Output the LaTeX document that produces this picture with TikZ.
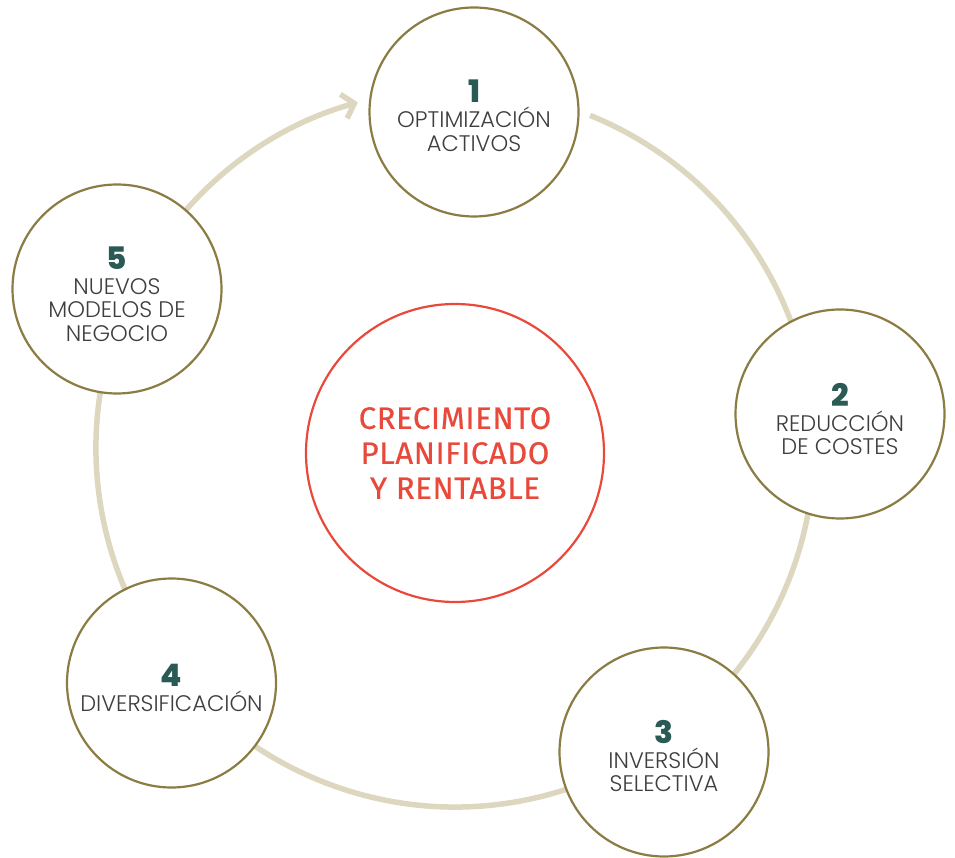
\documentclass[tikz,border=0pt]{standalone}
\usepackage{fontspec}
\setmainfont{Poppins}
\newfontfamily\labelfont{Poppins}[UprightFont={* Light}]
\newfontfamily\numfont{Poppins}[UprightFont={* ExtraBold}]
\newfontfamily\centerfont{Fira Sans}[FakeBold=0.6,LetterSpace=2]
\usetikzlibrary{arrows.meta,calc}
\definecolor{ringcol}{HTML}{DDD7BF}
\definecolor{olivecol}{HTML}{8A7C43}
\definecolor{tealnum}{HTML}{2A5A56}
\definecolor{labelgray}{HTML}{3E3E3E}
\definecolor{redcol}{HTML}{E9493B}
\newcommand{\stepnum}[1]{{\numfont\fontsize{31}{25}\selectfont\color{tealnum}#1}\\[1.5pt]}
\begin{document}
\begin{tikzpicture}[x=1pt,y=1pt,
  stepcircle/.style={circle, draw=olivecol, line width=2.2pt, fill=white,
    minimum size=209pt, inner sep=0pt},
  steptext/.style={align=center, text=labelgray, inner sep=0pt,
    font=\labelfont\fontsize{22.5}{23.5}\selectfont},
  centercircle/.style={circle, draw=redcol, line width=2.2pt, fill=white,
    minimum size=298pt, inner sep=0pt, align=center, text=redcol,
    font=\centerfont\fontsize{31}{35}\selectfont},
  ringline/.style={draw=ringcol, line width=5.5pt}]
\useasboundingbox (0,0) rectangle (955,857);
\coordinate (rc) at (455,409);
\coordinate (rstart) at ($(rc)+(67.9:359)$);
\draw[ringline, -{Straight Barb[length=11pt,width=25pt]}] (rstart) arc[start angle=67.9, end angle=-254.3, radius=359];
\node[centercircle] (center) at (455,404) {CRECIMIENTO\\PLANIFICADO\\Y RENTABLE};
\node[stepcircle] (c1) at (474,745) {};
\node[stepcircle] (c2) at (840,443) {};
\node[stepcircle] (c3) at (664,105) {};
\node[stepcircle] (c4) at (171.5,174) {};
\node[stepcircle] (c5) at (117,568) {};
\node[steptext] (t1) at ($(c1)+(0,-4)$) {\stepnum{1}OPTIMIZACIÓN\\ACTIVOS};
\node[steptext] (t2) at ($(c2)+(0,-5)$) {\stepnum{2}REDUCCIÓN\\DE COSTES};
\node[steptext] (t3) at ($(c3)+(0,-4)$) {\stepnum{3}INVERSIÓN\\SELECTIVA};
\node[steptext] (t4) at ($(c4)+(0,-5)$) {\stepnum{4}DIVERSIFICACIÓN};
\node[steptext] (t5) at ($(c5)+(0,-5)$) {\stepnum{5}NUEVOS\\MODELOS DE\\NEGOCIO};
\end{tikzpicture}
\end{document}
